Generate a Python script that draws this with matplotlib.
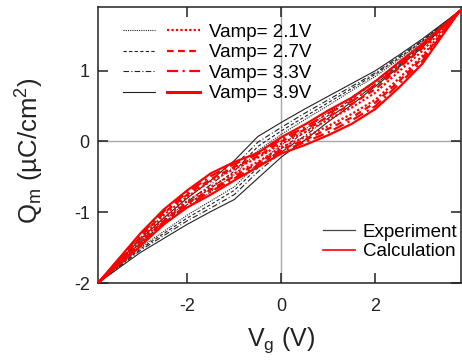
import matplotlib
matplotlib.use("Agg")
import matplotlib.pyplot as plt
from matplotlib.lines import Line2D
from matplotlib.legend_handler import HandlerTuple

plt.rcParams['font.family'] = ['Liberation Sans', 'DejaVu Sans']
plt.rcParams['mathtext.fontset'] = 'custom'
plt.rcParams['mathtext.rm'] = 'Liberation Sans'
plt.rcParams['mathtext.it'] = 'Liberation Sans:italic'
plt.rcParams['axes.unicode_minus'] = False

# gate voltage grid (V)
vg = [-3.9, -3.0, -2.5, -2.0, -1.5, -1.0, -0.5, 0.0, 0.5, 1.0, 1.5, 2.0, 2.5, 3.0, 3.8]

# experiment, upper / lower branches (uC/cm2)
exp_up_21 = [-2.0, -1.45, -1.18, -0.93, -0.71, -0.47, -0.13, 0.10, 0.31, 0.51, 0.72, 0.92, 1.16, 1.41, 1.85]
exp_lo_21 = [-2.0, -1.50, -1.27, -1.04, -0.84, -0.64, -0.31, -0.05, 0.17, 0.41, 0.63, 0.86, 1.11, 1.37, 1.85]
exp_up_27 = [-2.0, -1.43, -1.15, -0.89, -0.66, -0.42, -0.07, 0.15, 0.35, 0.55, 0.75, 0.95, 1.18, 1.42, 1.85]
exp_lo_27 = [-2.0, -1.52, -1.30, -1.08, -0.89, -0.69, -0.37, -0.10, 0.13, 0.37, 0.60, 0.84, 1.09, 1.36, 1.85]
exp_up_33 = [-2.0, -1.41, -1.12, -0.85, -0.61, -0.35, -0.01, 0.20, 0.40, 0.59, 0.78, 0.97, 1.20, 1.43, 1.85]
exp_lo_33 = [-2.0, -1.54, -1.33, -1.12, -0.94, -0.75, -0.43, -0.15, 0.08, 0.33, 0.56, 0.81, 1.07, 1.35, 1.85]
exp_up_39 = [-2.0, -1.38, -1.08, -0.80, -0.55, -0.27, 0.07, 0.27, 0.46, 0.64, 0.82, 1.00, 1.22, 1.45, 1.85]
exp_lo_39 = [-2.0, -1.57, -1.37, -1.17, -0.99, -0.82, -0.52, -0.22, 0.02, 0.28, 0.52, 0.78, 1.05, 1.33, 1.85]

# calculation, upper / lower branches
cal_up_21 = [-2.0, -1.37, -1.04, -0.78, -0.56, -0.39, -0.23, -0.03, 0.13, 0.31, 0.48, 0.69, 0.99, 1.28, 1.85]
cal_lo_21 = [-2.0, -1.41, -1.09, -0.84, -0.64, -0.45, -0.29, -0.08, 0.06, 0.22, 0.39, 0.59, 0.89, 1.21, 1.85]
cal_up_27 = [-2.0, -1.35, -1.01, -0.75, -0.53, -0.36, -0.21, 0.00, 0.17, 0.35, 0.53, 0.74, 1.04, 1.32, 1.85]
cal_lo_27 = [-2.0, -1.44, -1.12, -0.87, -0.68, -0.49, -0.31, -0.11, 0.02, 0.18, 0.34, 0.55, 0.85, 1.18, 1.85]
cal_up_33 = [-2.0, -1.32, -0.99, -0.72, -0.49, -0.32, -0.18, 0.03, 0.20, 0.40, 0.57, 0.80, 1.08, 1.35, 1.85]
cal_lo_33 = [-2.0, -1.46, -1.14, -0.90, -0.71, -0.52, -0.34, -0.14, -0.01, 0.13, 0.30, 0.50, 0.81, 1.14, 1.85]
cal_up_39 = [-2.0, -1.30, -0.96, -0.69, -0.45, -0.29, -0.16, 0.06, 0.24, 0.44, 0.62, 0.85, 1.12, 1.38, 1.85]
cal_lo_39 = [-2.0, -1.48, -1.17, -0.93, -0.75, -0.55, -0.36, -0.17, -0.05, 0.09, 0.25, 0.46, 0.76, 1.10, 1.85]

vamps = ['2.1V', '2.7V', '3.3V', '3.9V']
styles = [(0, (1, 1)), (0, (3, 2)), (0, (5, 2, 1, 2)), '-']
exp_loops = [(exp_up_21, exp_lo_21), (exp_up_27, exp_lo_27), (exp_up_33, exp_lo_33), (exp_up_39, exp_lo_39)]
cal_loops = [(cal_up_21, cal_lo_21), (cal_up_27, cal_lo_27), (cal_up_33, cal_lo_33), (cal_up_39, cal_lo_39)]

fig = plt.figure(figsize=(4.62, 3.64), dpi=100)
ax = fig.add_axes([98 / 462, 1 - 283 / 364, 363 / 462, 276 / 364])

ax.axhline(0, color='#a8a8a8', lw=1.0, zorder=0)
ax.axvline(0, color='#a8a8a8', lw=1.0, zorder=0)

vloop = vg + vg[::-1]
blk = '#222222'
red = '#ff0000'
for (up, lo), ls in zip(exp_loops, styles):
    ax.plot(vloop, up + lo[::-1], color=blk, lw=0.8, ls=ls, zorder=2)
for (up, lo), ls in zip(cal_loops, styles):
    ax.plot(vloop, up + lo[::-1], color=red, lw=1.6, ls=ls, zorder=3)

ax.set_xlim(-3.9, 3.82)
ax.set_ylim(-2, 1.9)
ax.set_xticks([-2, 0, 2])
ax.set_yticks([-2, -1, 0, 1])
ax.tick_params(direction='in', length=7, width=1.1, top=True, right=True,
               labelsize=13, pad=6, colors='#222222')
ax.tick_params(axis='x', pad=11)
for s in ax.spines.values():
    s.set_linewidth(1.1)
    s.set_color('#222222')

ax.set_xlabel('V$_{\\mathrm{g}}$ (V)', fontsize=18, color='#222222')
ax.set_ylabel('Q$_{\\mathrm{m}}$ (µC/cm$^{2}$)', fontsize=18.5, color='#222222')
ax.xaxis.set_label_coords(0.505, -0.155)
ax.yaxis.set_label_coords(-0.142, 0.48)

# legend of amplitudes: black + red handle per row
hs = []
for ls in styles:
    hb = Line2D([], [], color=blk, lw=0.8, ls=ls)
    hr = Line2D([], [], color=red, lw=1.6 if ls != '-' else 2.2, ls=ls)
    hs.append((hb, hr))
leg1 = ax.legend(hs, ['Vamp= ' + v for v in vamps], loc='upper left',
                 bbox_to_anchor=(0.069, 0.94), frameon=False, fontsize=13.5,
                 handler_map={tuple: HandlerTuple(ndivide=None, pad=0.64)},
                 handlelength=4.1, handletextpad=0.48, labelspacing=0.18,
                 borderpad=0, borderaxespad=0)
ax.add_artist(leg1)

h_exp = Line2D([], [], color='#444444', lw=0.9)
h_cal = Line2D([], [], color=red, lw=1.2)
ax.legend([h_exp, h_cal], ['Experiment', 'Calculation'], loc='lower left',
          bbox_to_anchor=(0.619, 0.082), frameon=False, fontsize=13.5,
          handlelength=1.7, handletextpad=0.43, labelspacing=0.12,
          borderpad=0, borderaxespad=0)

fig.savefig('out.png', dpi=100)
